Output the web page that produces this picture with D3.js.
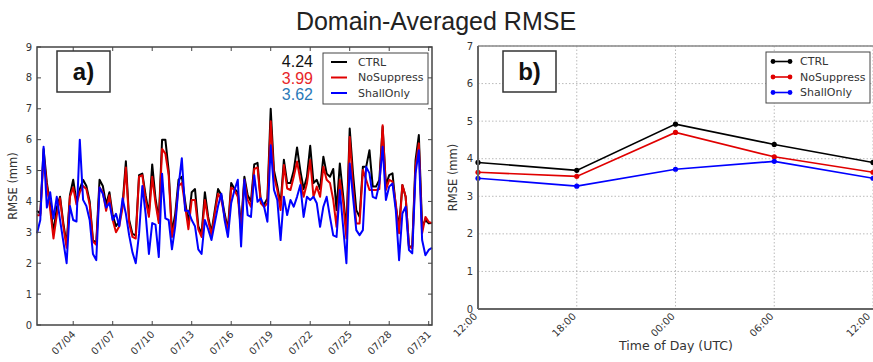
<!DOCTYPE html>
<html>
<head>
<meta charset="utf-8">
<script src="https://cdn.jsdelivr.net/npm/d3@7/dist/d3.min.js"></script>
<style>
  body { margin: 0; background: #fff; }
  svg { display: block; }
  text { fill: #333; }
</style>
</head>
<body>
<svg width="873" height="362"></svg>
<script>
// 6-hourly series, 07/01 06:00 .. 07/31 06:00
const startTime = Date.UTC(2015, 6, 1, 6);
const ctrl = [
  3.7, 3.6, 5.7, 4.6, 3.9, 3.0, 3.8, 4.15, 3.3, 2.6, 4.2, 4.7, 4.0, 4.4, 4.7, 4.5, 4.0, 2.75, 2.65, 4.7, 4.5, 3.9, 4.3, 3.55, 3.2, 3.35, 3.9, 5.3, 3.4, 2.95,
  2.9, 4.85, 4.9, 4.2, 3.6, 5.2, 4.1, 3.4, 6.0, 6.0, 5.0, 3.0, 3.6, 4.7, 4.8, 4.0, 3.3, 4.3, 4.4, 3.2, 2.95, 4.3, 3.5, 3.0, 3.7, 4.4, 4.2, 3.6, 3.1, 4.6,
  4.4, 4.3, 3.2, 4.8, 4.2, 4.0, 5.2, 5.25, 4.0, 3.9, 4.1, 7.0, 5.0, 4.5, 3.9, 5.35, 4.6, 4.6, 5.0, 5.75, 5.0, 4.4, 4.8, 5.8, 4.6, 4.7, 4.4, 5.45, 4.9, 4.8,
  5.05, 3.72, 5.23, 4.2, 3.07, 6.36, 4.91, 3.72, 3.5, 5.12, 5.12, 5.66, 4.48, 4.48, 4.7, 6.42, 4.53, 4.85, 4.91, 3.83, 3.18, 4.53, 4.15, 2.54, 2.54, 5.34, 6.15, 3.18, 3.4, 3.29, 3.3
];
const noSuppress = [
  3.55, 3.55, 5.5, 4.5, 3.75, 2.8, 3.55, 4.1, 3.2, 2.5, 4.15, 4.45, 3.9, 4.3, 4.5, 4.4, 3.9, 2.7, 2.6, 4.45, 4.3, 3.7, 4.2, 3.4, 3.0, 3.2, 3.8, 5.1, 3.3, 2.85,
  2.8, 4.8, 4.85, 4.05, 3.5, 4.8, 3.95, 3.3, 5.7, 5.55, 4.85, 2.85, 3.4, 4.5, 4.6, 3.85, 3.1, 4.05, 4.05, 3.1, 2.85, 4.05, 3.4, 2.9, 3.6, 4.25, 4.05, 3.5, 3.0, 4.45,
  4.37, 4.15, 3.07, 4.7, 4.05, 3.83, 5.05, 5.1, 3.94, 3.83, 3.94, 6.6, 4.8, 4.37, 3.72, 5.18, 4.42, 4.37, 4.8, 5.29, 4.7, 4.15, 4.58, 5.34, 4.15, 4.48, 4.15, 5.12, 4.7, 4.6,
  4.05, 3.18, 4.7, 4.0, 2.8, 6.09, 4.48, 3.29, 3.29, 5.02, 4.7, 4.37, 4.37, 4.37, 4.4, 6.47, 4.37, 4.7, 4.64, 3.94, 2.97, 4.53, 4.15, 2.54, 2.48, 5.12, 5.88, 2.97, 3.5, 3.34, 3.3
];
const shallOnly = [
  2.97, 3.4, 5.77, 3.8, 4.3, 3.45, 4.15, 3.4, 2.7, 2.0, 3.85, 3.4, 3.35, 6.0, 4.05, 3.85, 3.4, 2.3, 2.1, 4.45, 4.25, 3.8, 3.95, 3.4, 3.6, 3.2, 4.1, 3.6, 2.9, 2.35,
  2.0, 2.95, 4.5, 3.6, 2.3, 3.3, 3.25, 2.2, 4.9, 3.45, 3.4, 2.45, 3.2, 4.5, 5.4, 3.7, 3.7, 3.4, 3.2, 2.45, 2.3, 3.4, 3.1, 2.75, 3.3, 3.85, 4.25, 3.4, 2.85, 3.95,
  4.37, 4.7, 2.54, 4.7, 3.56, 3.5, 4.85, 3.99, 4.1, 3.83, 3.34, 5.82, 4.37, 4.05, 2.75, 4.15, 3.56, 4.05, 3.83, 4.15, 4.53, 3.5, 4.15, 4.05, 4.15, 3.94, 3.18, 3.83, 4.15, 3.5,
  2.9, 2.85, 4.37, 3.18, 2.0, 5.23, 4.15, 3.07, 2.91, 3.07, 5.12, 4.91, 4.15, 4.1, 4.58, 5.77, 4.05, 4.48, 4.58, 3.72, 2.1, 3.61, 3.83, 2.43, 2.32, 4.91, 5.66, 2.75, 2.26, 2.43, 2.5
];
const seriesNames = ["CTRL", "NoSuppress", "ShallOnly"];
const seriesColors = ["#000000", "#e00000", "#0000ff"];
const meanLabels = ["4.24", "3.99", "3.62"];
const meanColors = ["#111111", "#e8262a", "#2a7ab8"];

// diurnal composite (hours from 12 UTC)
const hours = [12, 18, 24, 30, 36];
const hourLabels = ["12:00", "18:00", "00:00", "06:00", "12:00"];
const diurnalCtrl = [3.90, 3.69, 4.92, 4.38, 3.90];
const diurnalNoSup = [3.64, 3.53, 4.70, 4.05, 3.64];
const diurnalShall = [3.48, 3.27, 3.72, 3.93, 3.48];

const svg = d3.select("svg");
const tickFont = "'DejaVu Sans', sans-serif";

svg.append("text")
  .attr("x", 436).attr("y", 30)
  .attr("text-anchor", "middle")
  .style("font-family", "'Liberation Sans', Arial, sans-serif")
  .style("font-size", "25px")
  .style("fill", "#222")
  .text("Domain-Averaged RMSE");

// ---------- panel a ----------
const A = { l: 37, r: 432, t: 47, b: 325 };
const times = ctrl.map((_, i) => new Date(startTime + i * 6 * 3600 * 1000));
const xa = d3.scaleUtc().domain(d3.extent(times)).range([A.l, A.r]);
const ya = d3.scaleLinear().domain([0, 9]).range([A.b, A.t]);
const ga = svg.append("g");

const lineA = d3.line().x((d, i) => xa(times[i])).y(d => ya(d));
[ctrl, noSuppress, shallOnly].forEach((s, k) => {
  ga.append("path").datum(s)
    .attr("d", lineA)
    .attr("fill", "none")
    .attr("stroke", seriesColors[k])
    .attr("stroke-width", 2)
    .attr("stroke-linejoin", "round");
});

const dateTicks = xa.ticks(d3.utcDay.every(3));
const yTicksA = d3.range(0, 10);

function frame(g, P, color, width) {
  g.append("rect")
    .attr("x", P.l).attr("y", P.t)
    .attr("width", P.r - P.l).attr("height", P.b - P.t)
    .attr("fill", "none").attr("stroke", color).attr("stroke-width", width);
}
frame(ga, A, "#444", 1.5);

dateTicks.forEach(d => {
  const x = xa(d);
  ga.append("line").attr("x1", x).attr("x2", x).attr("y1", A.b).attr("y2", A.b - 4).attr("stroke", "#444");
  ga.append("line").attr("x1", x).attr("x2", x).attr("y1", A.t).attr("y2", A.t + 4).attr("stroke", "#444");
  ga.append("text")
    .attr("text-anchor", "end")
    .attr("transform", `translate(${x + 3},${A.b + 10}) rotate(-45)`)
    .style("font-family", tickFont).style("font-size", "10px")
    .text(d3.utcFormat("%m/%d")(d));
});
yTicksA.forEach(v => {
  const y = ya(v);
  ga.append("line").attr("x1", A.l).attr("x2", A.l + 4).attr("y1", y).attr("y2", y).attr("stroke", "#444");
  ga.append("line").attr("x1", A.r).attr("x2", A.r - 4).attr("y1", y).attr("y2", y).attr("stroke", "#444");
  ga.append("text")
    .attr("x", A.l - 5).attr("y", y).attr("dy", "0.35em")
    .attr("text-anchor", "end")
    .style("font-family", tickFont).style("font-size", "10px")
    .text(v);
});
ga.append("text")
  .attr("transform", `translate(17,${(A.t + A.b) / 2}) rotate(-90)`)
  .attr("text-anchor", "middle")
  .style("font-family", tickFont).style("font-size", "11.5px")
  .text("RMSE (mm)");

// label box a)
ga.append("rect").attr("x", 57).attr("y", 51).attr("width", 53).attr("height", 41)
  .attr("fill", "#fff").attr("stroke", "#333").attr("stroke-width", 1.5);
ga.append("text").attr("x", 83.5).attr("y", 80).attr("text-anchor", "middle")
  .style("font-family", "'Liberation Sans', Arial, sans-serif")
  .style("font-size", "24px").style("font-weight", "bold").style("fill", "#111")
  .text("a)");

// means
meanLabels.forEach((m, k) => {
  ga.append("text").attr("x", 313).attr("y", 67 + k * 16.5)
    .attr("text-anchor", "end")
    .style("font-family", "'Liberation Sans', Arial, sans-serif")
    .style("font-size", "16px").style("fill", meanColors[k])
    .text(m);
});

// legend a
ga.append("rect").attr("x", 323).attr("y", 53).attr("width", 105).attr("height", 51)
  .attr("fill", "#fff").attr("stroke", "#444").attr("stroke-width", 1);
seriesNames.forEach((n, k) => {
  const y = 62 + k * 15.5;
  ga.append("line").attr("x1", 331).attr("x2", 347).attr("y1", y).attr("y2", y)
    .attr("stroke", seriesColors[k]).attr("stroke-width", 2);
  ga.append("text").attr("x", 358).attr("y", y).attr("dy", "0.35em")
    .style("font-family", tickFont).style("font-size", "11px")
    .text(n);
});

// ---------- panel b ----------
const B = { l: 478, r: 873, t: 46, b: 309 };
const xb = d3.scaleLinear().domain([12, 36]).range([B.l, B.r]);
const yb = d3.scaleLinear().domain([0, 7]).range([B.b, B.t]);
const gb = svg.append("g");

yb.ticks(7).forEach(v => {
  gb.append("line").attr("x1", B.l).attr("x2", B.r).attr("y1", yb(v)).attr("y2", yb(v))
    .attr("stroke", "#aaa").attr("stroke-width", 0.8).attr("stroke-dasharray", "1.5,2");
});
hours.forEach(h => {
  gb.append("line").attr("x1", xb(h)).attr("x2", xb(h)).attr("y1", B.t).attr("y2", B.b)
    .attr("stroke", "#aaa").attr("stroke-width", 0.8).attr("stroke-dasharray", "1.5,2");
});

const lineB = d3.line().x((d, i) => xb(hours[i])).y(d => yb(d));
[diurnalCtrl, diurnalNoSup, diurnalShall].forEach((s, k) => {
  gb.append("path").datum(s).attr("d", lineB)
    .attr("fill", "none").attr("stroke", seriesColors[k]).attr("stroke-width", 1.6);
  gb.selectAll(null).data(s).enter().append("circle")
    .attr("cx", (d, i) => xb(hours[i])).attr("cy", d => yb(d)).attr("r", 2.6)
    .attr("fill", seriesColors[k]);
});

// spines
gb.append("line").attr("x1", B.l).attr("x2", B.r).attr("y1", B.t).attr("y2", B.t).attr("stroke", "#888").attr("stroke-width", 1.5);
gb.append("line").attr("x1", B.l).attr("x2", B.r).attr("y1", B.b).attr("y2", B.b).attr("stroke", "#666").attr("stroke-width", 2);
gb.append("line").attr("x1", B.l).attr("x2", B.l).attr("y1", B.t).attr("y2", B.b).attr("stroke", "#666").attr("stroke-width", 2);

hours.forEach((h, i) => {
  const x = Math.min(xb(h), 871);
  gb.append("text")
    .attr("text-anchor", "end")
    .attr("transform", `translate(${x},${B.b + 8}) rotate(-45)`)
    .style("font-family", tickFont).style("font-size", "10px")
    .text(hourLabels[i]);
});
yb.ticks(7).forEach(v => {
  gb.append("text")
    .attr("x", B.l - 5).attr("y", yb(v)).attr("dy", "0.35em")
    .attr("text-anchor", "end")
    .style("font-family", tickFont).style("font-size", "10px")
    .text(v);
});
gb.append("text")
  .attr("transform", `translate(457,${(B.t + B.b) / 2}) rotate(-90)`)
  .attr("text-anchor", "middle")
  .style("font-family", tickFont).style("font-size", "11.5px")
  .text("RMSE (mm)");
gb.append("text")
  .attr("x", 676).attr("y", 350)
  .attr("text-anchor", "middle")
  .style("font-family", tickFont).style("font-size", "12.5px")
  .text("Time of Day (UTC)");

// label box b)
gb.append("rect").attr("x", 503).attr("y", 51).attr("width", 53).attr("height", 41)
  .attr("fill", "#fff").attr("stroke", "#333").attr("stroke-width", 1.5);
gb.append("text").attr("x", 529.5).attr("y", 80).attr("text-anchor", "middle")
  .style("font-family", "'Liberation Sans', Arial, sans-serif")
  .style("font-size", "24px").style("font-weight", "bold").style("fill", "#111")
  .text("b)");

// legend b
gb.append("rect").attr("x", 766).attr("y", 52).attr("width", 104).attr("height", 51)
  .attr("fill", "#fff").attr("stroke", "#444").attr("stroke-width", 1);
seriesNames.forEach((n, k) => {
  const y = 61.5 + k * 15.5;
  gb.append("line").attr("x1", 773).attr("x2", 790).attr("y1", y).attr("y2", y)
    .attr("stroke", seriesColors[k]).attr("stroke-width", 1.6);
  [773, 790].forEach(cx => gb.append("circle").attr("cx", cx).attr("cy", y).attr("r", 2.4).attr("fill", seriesColors[k]));
  gb.append("text").attr("x", 800).attr("y", y).attr("dy", "0.35em")
    .style("font-family", tickFont).style("font-size", "11px")
    .text(n);
});
</script>
</body>
</html>
